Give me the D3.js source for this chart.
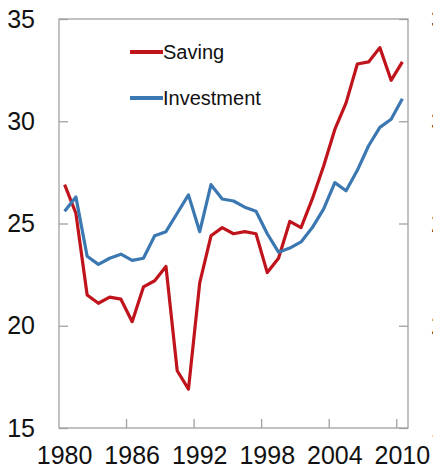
<!DOCTYPE html>
<html>
  <head>
    <script src="https://d3js.org/d3.v7.min.js"></script>
    <style>
      body { margin: 0; background: #fff; }
      text { font-family: "Liberation Sans", Arial, sans-serif; fill: #111; }
    </style>
  </head>
  <body>
    <div id="chart"></div>

    <script>
      const years = d3.range(1980, 2011);
      const saving = [26.9, 25.5, 21.5, 21.1, 21.4, 21.3, 20.2, 21.9, 22.2, 22.9,
                      17.8, 16.9, 22.1, 24.4, 24.8, 24.5, 24.6, 24.5, 22.6, 23.3,
                      25.1, 24.8, 26.2, 27.8, 29.6, 30.9, 32.8, 32.9, 33.6, 32.0, 32.9];
      const investment = [25.6, 26.3, 23.4, 23.0, 23.3, 23.5, 23.2, 23.3, 24.4, 24.6,
                          25.5, 26.4, 24.6, 26.9, 26.2, 26.1, 25.8, 25.6, 24.5, 23.6,
                          23.8, 24.1, 24.8, 25.7, 27.0, 26.6, 27.6, 28.8, 29.7, 30.1, 31.1];
      const yTicks = [15, 20, 25, 30, 35];
      const xTickYears = [1980, 1986, 1992, 1998, 2004, 2010];
      const seriesNames = ["Saving", "Investment"];
      const colors = ["#c0141c", "#3b78b2"];

      const width = 433;
      const height = 476;
      const margin = { top: 19, right: 25, bottom: 48, left: 59 };

      const svg = d3.select("#chart")
        .append("svg")
        .attr("width", width)
        .attr("height", height);

      // category scale: one band per year, labels at band centres
      const x = d3.scaleBand()
        .domain(years)
        .range([margin.left, width - margin.right])
        .padding(0);
      const y = d3.scaleLinear()
        .domain([15, 35])
        .range([height - margin.bottom, margin.top]);

      const plotW = width - margin.left - margin.right;
      const plotH = height - margin.top - margin.bottom;

      // frame
      svg.append("rect")
        .attr("x", margin.left)
        .attr("y", margin.top)
        .attr("width", plotW)
        .attr("height", plotH)
        .attr("fill", "none")
        .attr("stroke", "#a0a0a0")
        .attr("stroke-width", 1.3);

      // left axis
      const left = svg.append("g")
        .attr("transform", `translate(${margin.left},0)`)
        .call(d3.axisLeft(y).tickValues(yTicks).tickSize(-9).tickPadding(24));
      left.select(".domain").remove();
      left.selectAll("line").attr("stroke", "#a0a0a0").attr("stroke-width", 1.3);
      left.selectAll("text").style("font-size", "25px").attr("fill", "#111");

      // right axis (labels run off the page edge, as in the original crop)
      const right = svg.append("g")
        .attr("transform", `translate(${width - margin.right},0)`)
        .call(d3.axisRight(y).tickValues(yTicks).tickSize(-9).tickPadding(23));
      right.select(".domain").remove();
      right.selectAll("line").attr("stroke", "#a0a0a0").attr("stroke-width", 1.3);
      right.selectAll("text").style("font-size", "25px").attr("fill", "#111");

      // bottom ticks at band edges, labels at centres
      const bottom = svg.append("g")
        .attr("transform", `translate(0,${height - margin.bottom})`);
      bottom.selectAll("line")
        .data(xTickYears.slice(1))
        .enter()
        .append("line")
        .attr("x1", d => x(d))
        .attr("x2", d => x(d))
        .attr("y1", 0)
        .attr("y2", -9)
        .attr("stroke", "#a0a0a0")
        .attr("stroke-width", 1.3);
      bottom.selectAll("text")
        .data(xTickYears)
        .enter()
        .append("text")
        .attr("x", d => x(d) + x.bandwidth() / 2)
        .attr("y", 36)
        .style("text-anchor", "middle")
        .style("font-size", "25px")
        .text(d => d);

      const line = d3.line()
        .x((d, i) => x(years[i]) + x.bandwidth() / 2)
        .y(d => y(d));

      [saving, investment].forEach((s, i) => {
        svg.append("path")
          .datum(s)
          .attr("fill", "none")
          .attr("stroke", colors[i])
          .attr("stroke-width", 3.2)
          .attr("stroke-linejoin", "round")
          .attr("d", line);
      });

      // legend
      const legend = svg.append("g");
      seriesNames.forEach((name, i) => {
        const ly = 52 + i * 46;
        legend.append("line")
          .attr("x1", 130)
          .attr("x2", 163)
          .attr("y1", ly)
          .attr("y2", ly)
          .attr("stroke", colors[i])
          .attr("stroke-width", 4);
        legend.append("text")
          .attr("x", 163)
          .attr("y", ly + 7)
          .style("font-size", "20px")
          .text(name);
      });
    </script>
  </body>
</html>
